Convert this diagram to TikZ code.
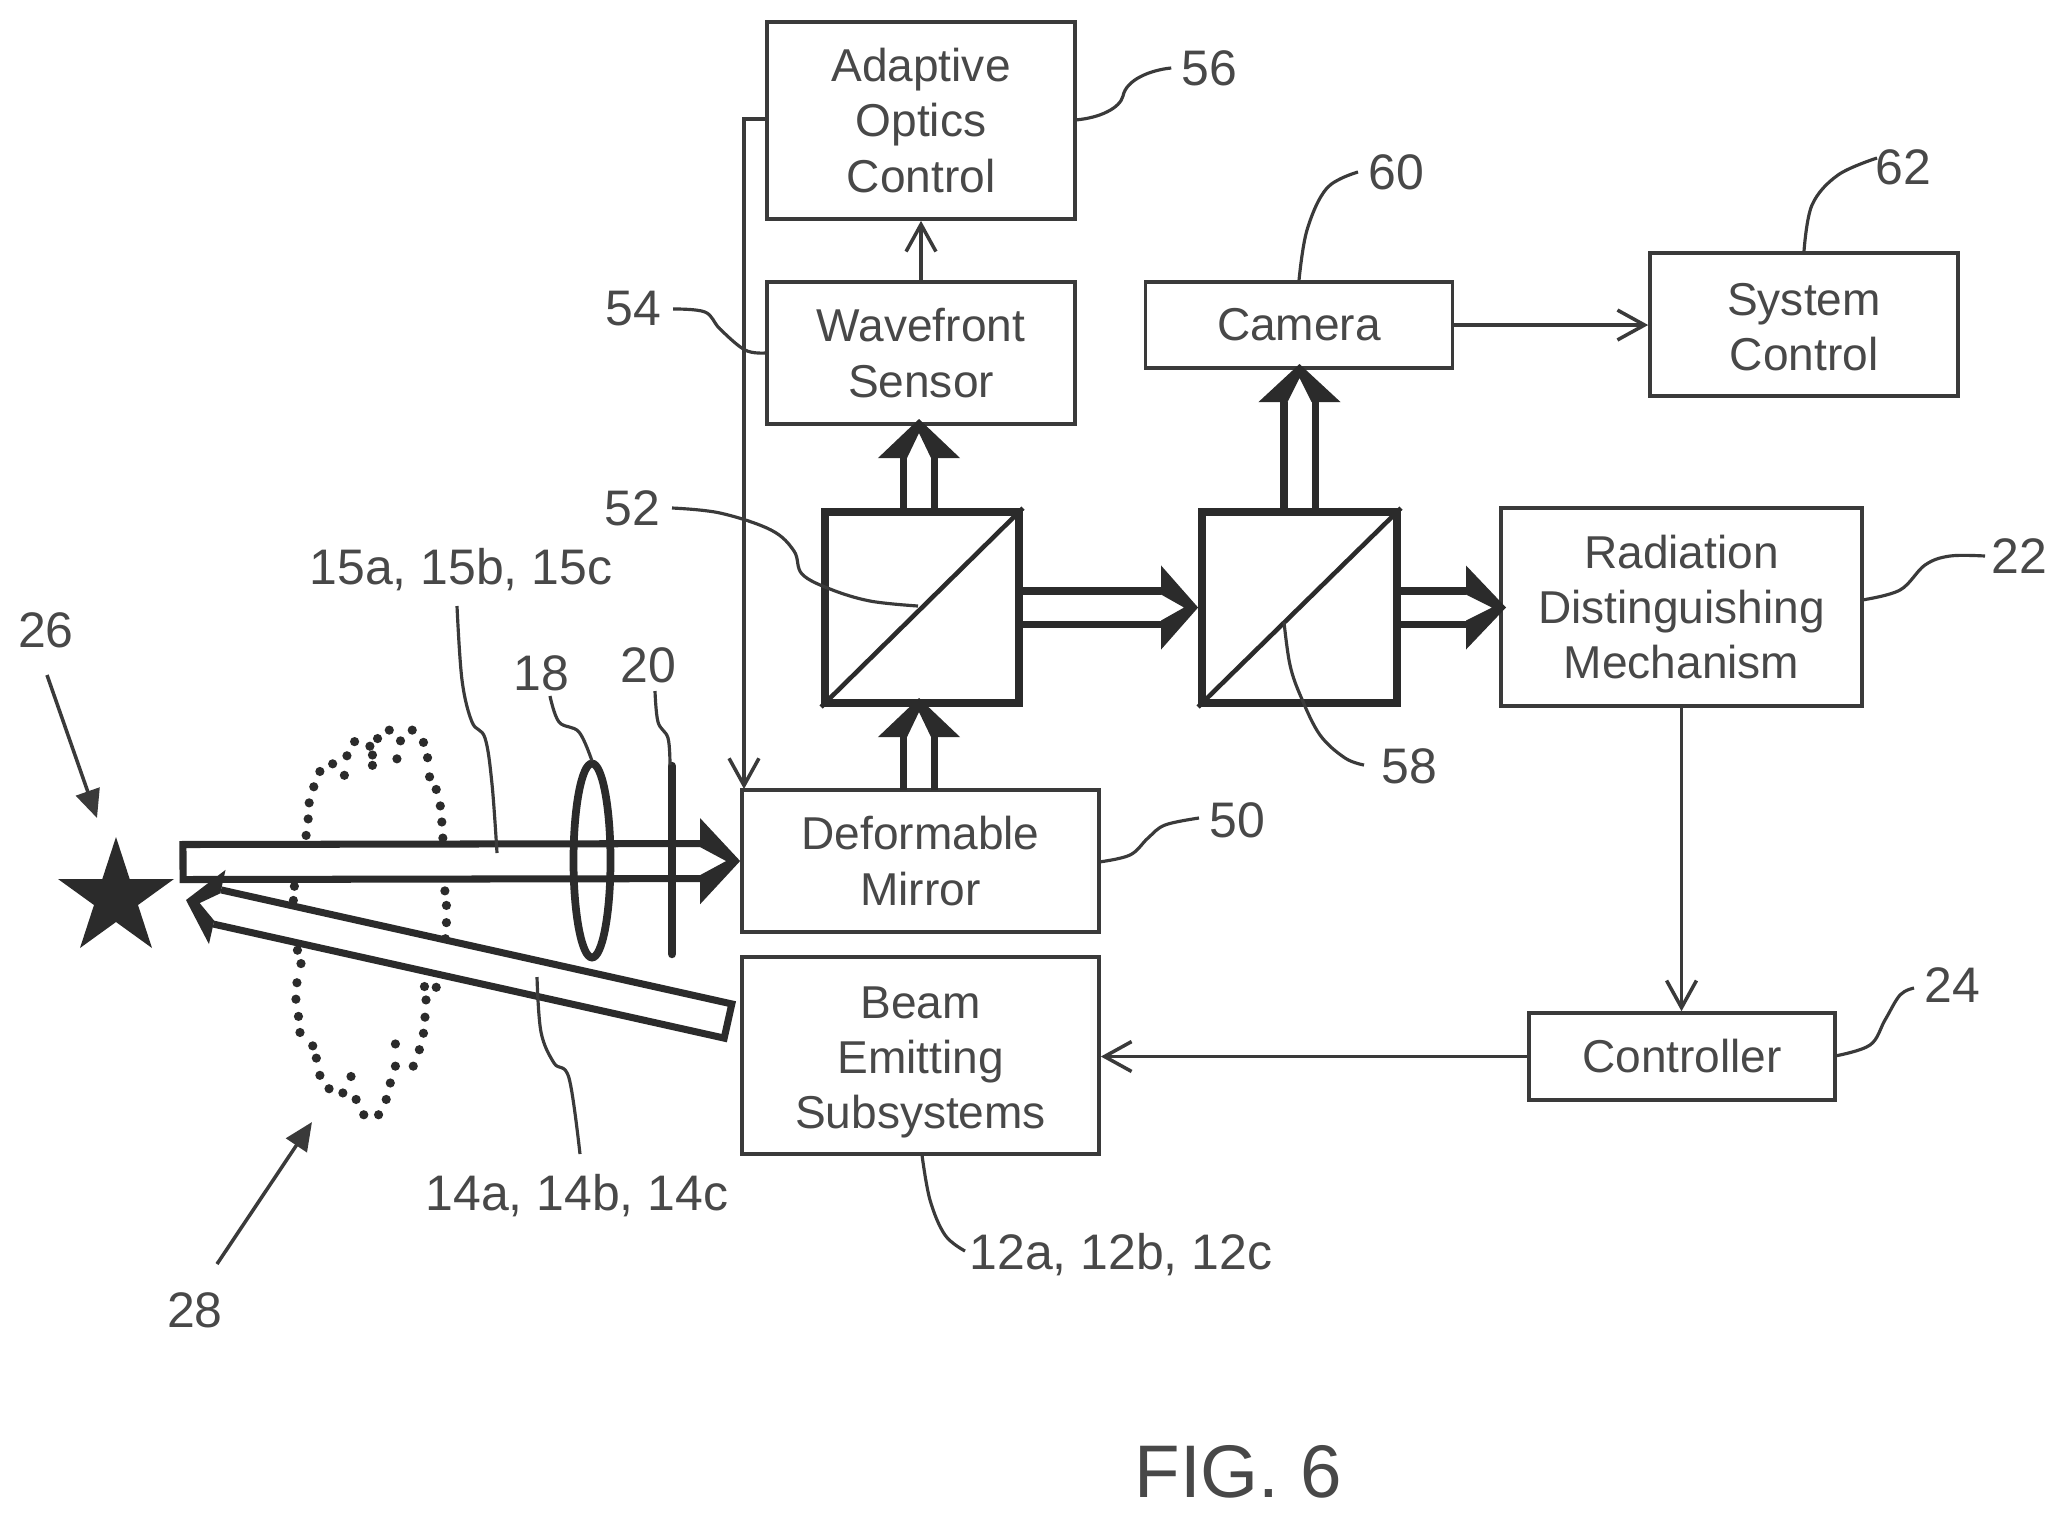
\documentclass[tikz,border=0pt]{standalone}
\usepackage{fontspec}
\setmainfont{Liberation Sans}
\usetikzlibrary{arrows.meta,calc}
\definecolor{ink}{HTML}{2B2B2B}
\definecolor{thinink}{HTML}{3A3A3A}
\definecolor{textink}{HTML}{484848}
\tikzset{
  box/.style={draw=thinink,line width=1pt,fill=white,inner sep=0pt,align=center,text=textink,
    font=\fontsize{13.1}{15.7}\selectfont},
  cube/.style={draw=ink,line width=2.2pt,inner sep=0pt,fill=white},
  lab/.style={inner sep=0pt,outer sep=.1cm,text=textink,font=\fontsize{14.2}{16}\selectfont},
  thin line/.style={draw=thinink,line width=1pt},
  flow/.style={thin line,-{Straight Barb[length=7.7pt,width=8.5pt,line width=1pt]}},
  ptr/.style={thin line,-{Triangle[length=8pt,width=7pt]}},
  lead/.style={draw=thinink,line width=.9pt},
  thickline/.style={draw=ink,line width=2pt,line join=miter},
  optic/.style={draw=ink,line width=2.2pt},
  speck/.style={fill=ink,draw=none},
}
% head outline: tail, tip, shaft half width, head half width, head length
\newcommand\headshape[5]{%
  \coordinate (hb) at ($(#2)!#5!(#1)$);
  \fill[ink] (#2) -- ($(hb)!#4!90:(#2)$) -- ($(hb)!#3+.035cm!90:(#2)$) -- ($(hb)!#3-.035cm!90:(#2)$)
     -- ($(#2)!.14cm!(#1)$)
     -- ($(hb)!#3-.035cm!-90:(#2)$) -- ($(hb)!#3+.035cm!-90:(#2)$) -- ($(hb)!#4!-90:(#2)$) -- cycle;}
% hollow arrow: from, tip, half width, head half width, head length
\newcommand\hollow[5]{%
  \coordinate (hc) at ($(#2)!#5!(#1)$);
  \draw[thickline] ($(#1)!#3!90:(#2)$) -- ($(hc)!#3!90:(#2)$)
        ($(#1)!#3!-90:(#2)$) -- ($(hc)!#3!-90:(#2)$);
  \headshape{#1}{#2}{#3}{#4}{#5}}
% hollow arrow with a closed tail and a white interior
\newcommand\hollowclosed[5]{%
  \coordinate (hc) at ($(#2)!#5!(#1)$);
  \draw[thickline,fill=white] ($(hc)!#3!90:(#2)$) -- ($(#1)!#3!90:(#2)$) -- ($(#1)!#3!-90:(#2)$) -- ($(hc)!#3!-90:(#2)$);
  \headshape{#1}{#2}{#3}{#4}{#5}}
\begin{document}
\begin{tikzpicture}[x=0.01cm,y=-0.01cm]
\useasboundingbox (0,0) rectangle (2064,1520);
\fill[white] (0,0) rectangle (2064,1520);

% boxes
\node[box,minimum width=3.08cm,minimum height=1.97cm] (adaptive) at (921,120.5) {Adaptive\\Optics\\Control};
\node[box,minimum width=3.08cm,minimum height=1.42cm] (wavefront) at (921,353) {Wavefront\\Sensor};
\node[box,minimum width=3.07cm,minimum height=.86cm] (camera) at (1299,325) {Camera};
\node[box,minimum width=3.08cm,minimum height=1.43cm] (system) at (1804,324.5) {\rule{0pt}{10.6pt}System\\Control};
\node[box,minimum width=3.61cm,minimum height=1.98cm] (radiation) at (1681.5,607) {Radiation\\Distinguishing\\Mechanism};
\node[box,minimum width=3.06cm,minimum height=.87cm] (controller) at (1682,1056.5) {Controller};
\node[box,minimum width=3.57cm,minimum height=1.42cm] (deformable) at (920.5,861) {Deformable\\Mirror};
\node[box,minimum width=3.57cm,minimum height=1.97cm] (beam) at (920.5,1055.5) {\rule{0pt}{13pt}Beam\\Emitting\\Subsystems};
\node[cube,minimum width=1.94cm,minimum height=1.91cm] (cubea) at (922,607.5) {};
\node[cube,minimum width=1.95cm,minimum height=1.91cm] (cubeb) at (1299.5,607.5) {};
\draw[optic,line width=1.3pt] (cubea.south west) -- (cubea.north east);
\draw[optic,line width=1.3pt] (cubeb.south west) -- (cubeb.north east);

% labels
\node[lab] (l56) at (1209,68) {56};
\node[lab] (l60) at (1396,172) {60};
\node[lab] (l62) at (1903,167) {62};
\node[lab] (l54) at (633,309) {54};
\node[lab] (l52) at (632,508) {52};
\node[lab] (l58) at (1409,766) {58};
\node[lab] (l22) at (2019,556) {22};
\node[lab] (l50) at (1237,820) {50};
\node[lab] (l24) at (1952,985) {24};
\node[lab] (l26) at (46,630) {26};
\node[lab] (l28) at (195,1310) {28};
\node[lab] (l15) at (461,570) {15a, 15b, 15c};
\node[lab] (l18) at (541,673) {18};
\node[lab] (l20) at (648,665) {20};
\node[lab] (l14) at (577,1196) {14a, 14b, 14c};
\node[lab] (l12) at (1121,1255) {12a, 12b, 12c};
\node[text=textink,inner sep=0pt,font=\fontsize{21.2}{24}\selectfont] (fig) at (1238,1472) {FIG. 6};

% dotted loop
\foreach \x/\y in {600/615,604/572,606/530,615/488,627/448,652/428,680/407,695/370,740/362,763/340,808/340,830/372,838/412,842/462,855/495,863/538,866/580,868/622,675/458,725/382,730/405,730/432,778/415,785/368,
 577/748,575/785,575/808,583/915,590/950,582/1000,580/1043,585/1088,588/1130,613/1165,620/1197,627/1242,645/1277,672/1288,688/1245,698/1305,713/1345,742/1345,757/1305,765/1262,775/1218,775/1160,810/1218,822/1175,830/1132,833/1090,835/1045,832/1010,855/1012,872/760,875/798,875/843,873/885}
  \fill[speck] ({\x/1.96},{600+\y/2.613}) circle (4.6);

% star
\fill[ink] (116,837) -- (129.7,879) -- (174,879) -- (138,905) -- (152,948) -- (116,922) -- (80,948) -- (94,905) -- (58,879) -- (102.3,879) -- cycle;

% beams
\coordinate (maintail) at (183,862);
\hollowclosed{maintail}{deformable.west}{.175cm}{.43cm}{.40cm}
\coordinate (rettail) at (728,1021);
\coordinate (rettip) at (186,900);
\hollowclosed{rettail}{rettip}{.175cm}{.38cm}{.32cm}

% lens and stop
\draw[optic] (592,860.5) ellipse (18.5 and 97);
\coordinate (stopa) at (672,766);
\coordinate (stopb) at (672,954);
\draw[optic,line width=2.4pt,line cap=round] (stopa) -- (stopb);

% hollow arrows between cubes
\coordinate (dfrom) at (919,790);
\coordinate (dtip) at (919,698);
\hollow{dfrom}{dtip}{.155cm}{.41cm}{.39cm}
\coordinate (wfrom) at (919,512);
\coordinate (wtip) at (919,419);
\hollow{wfrom}{wtip}{.155cm}{.41cm}{.39cm}
\coordinate (cfrom) at (1299.5,512);
\coordinate (ctip) at (1299.5,364);
\hollow{cfrom}{ctip}{.155cm}{.41cm}{.38cm}
\hollow{cubea.east}{cubeb.west}{.165cm}{.42cm}{.37cm}
\coordinate (rtip) at (1506,607.5);
\hollow{cubeb.east}{rtip}{.165cm}{.42cm}{.40cm}

% thin connectors
\draw[flow] (wavefront.north) -- (adaptive.south);
\draw[flow] (camera.east) -- (system.west |- camera.east);
\draw[flow] (radiation.south) -- (radiation.south |- controller.north);
\draw[flow] (controller.west) -- (controller.west -| beam.east);
\coordinate (aoin) at (744,119);
\coordinate (aoend) at (744,789);
\draw[flow] (adaptive.west |- aoin) -- (aoin) -- (aoend);

% pointers
\coordinate (pa) at (47,675);
\coordinate (pb) at (97,818);
\draw[ptr] (pa) -- (pb);
\coordinate (pc) at (217,1264);
\coordinate (pd) at (312,1122);
\draw[ptr] (pc) -- (pd);

% leaders
\draw[lead] (1075,120) .. controls (1100,118) and (1120,108) .. (1123,96) .. controls (1126,80) and (1150,70) .. (l56.west);
\draw[lead] plot[smooth,tension=.6] coordinates {(camera.north) (1307,230) (1327,188) (1358,172)};
\draw[lead] plot[smooth,tension=.6] coordinates {(system.north) (1812,205) (1838,175) (1877,158)};
\draw[lead] plot[smooth,tension=.6] coordinates {(673,309) (705,312) (720,329) (745,350) (wavefront.west)};
\draw[lead] plot[smooth,tension=.6] coordinates {(672,508) (720,513) (771,530) (794,551) (802,574) (830,589) (870,601) (918,606)};
\draw[lead] plot[smooth,tension=.6] coordinates {(1284,622) (1290,665) (1301,697) (1320,735) (1345,758) (1364,765)};
\draw[lead] plot[smooth,tension=.6] coordinates {(1862,600) (1900,590) (1925,565) (1950,556) (1985,556)};
\draw[lead] plot[smooth,tension=.6] coordinates {(1099,862) (1130,855) (1148,838) (1165,825) (1199,818)};
\draw[lead] plot[smooth,tension=.6] coordinates {(1835,1056) (1870,1045) (1885,1020) (1900,995) (1914,988)};
\draw[lead] plot[smooth,tension=.6] coordinates {(922,1155) (930,1200) (945,1235) (965,1251)};
\draw[lead] plot[smooth,tension=.6] coordinates {(457,606) (462,680) (472,722) (485,738) (492,784) (497,853)};
\draw[lead] plot[smooth,tension=.6] coordinates {(550,696) (559,722) (579,732) (592,761)};
\draw[lead] plot[smooth,tension=.6] coordinates {(655,691) (658,722) (668,738) (670,765)};
\draw[lead] plot[smooth,tension=.6] coordinates {(537,977) (541,1032) (554,1063) (569,1078) (580,1154)};
\end{tikzpicture}
\end{document}
